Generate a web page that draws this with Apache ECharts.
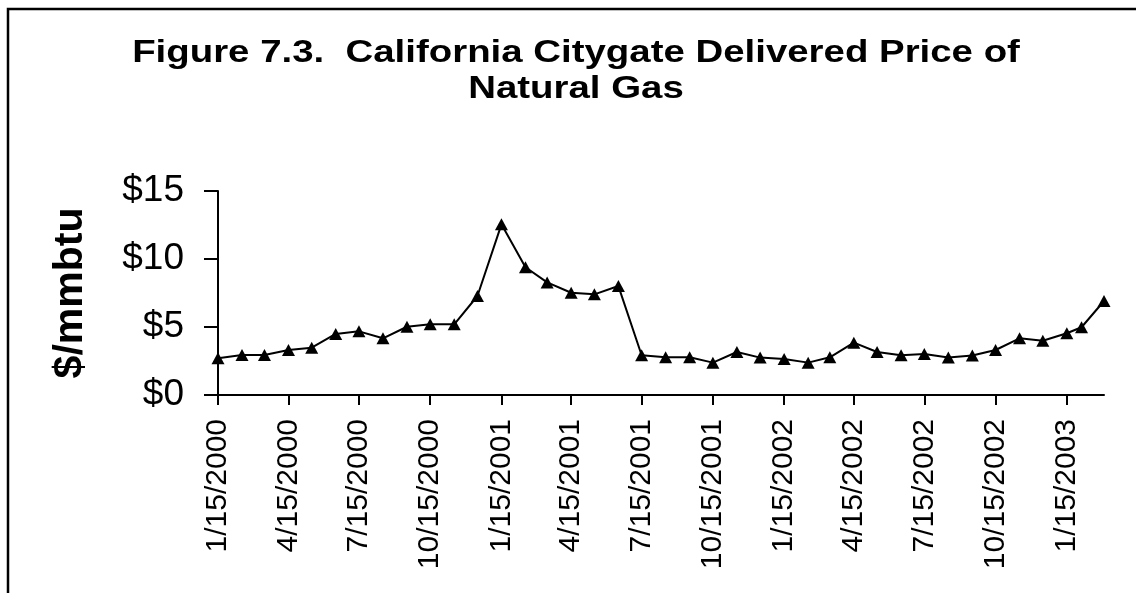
<!DOCTYPE html>
<html>
<head>
<meta charset="utf-8">
<script src="https://cdn.jsdelivr.net/npm/echarts@6/dist/echarts.min.js"></script>
<style>
html,body{margin:0;padding:0;background:#fff;}
#chart{width:1136px;height:593px;}
</style>
</head>
<body>
<div id="chart"></div>
<script>
// ---- data ----
var dates = [
  '1/15/2000','2/15/2000','3/15/2000','4/15/2000','5/15/2000','6/15/2000',
  '7/15/2000','8/15/2000','9/15/2000','10/15/2000','11/15/2000','12/15/2000',
  '1/15/2001','2/15/2001','3/15/2001','4/15/2001','5/15/2001','6/15/2001',
  '7/15/2001','8/15/2001','9/15/2001','10/15/2001','11/15/2001','12/15/2001',
  '1/15/2002','2/15/2002','3/15/2002','4/15/2002','5/15/2002','6/15/2002',
  '7/15/2002','8/15/2002','9/15/2002','10/15/2002','11/15/2002','12/15/2002',
  '1/15/2003','2/3/2003','3/4/2003'
];
var prices = [
  2.70, 2.94, 2.94, 3.31, 3.48, 4.49,
  4.68, 4.17, 5.02, 5.20, 5.20, 7.28,
  12.55, 9.39, 8.28, 7.52, 7.40, 8.01,
  2.92, 2.77, 2.77, 2.38, 3.16, 2.75,
  2.65, 2.38, 2.77, 3.85, 3.16, 2.92,
  3.01, 2.75, 2.90, 3.31, 4.17, 3.99,
  4.54, 4.98, 6.91
];
var tickLabels = [
  '1/15/2000','4/15/2000','7/15/2000','10/15/2000',
  '1/15/2001','4/15/2001','7/15/2001','10/15/2001',
  '1/15/2002','4/15/2002','7/15/2002','10/15/2002',
  '1/15/2003'
];
var yTicks = [0, 5, 10, 15];
var titleText = 'Figure 7.3.  California Citygate Delivered Price of\nNatural Gas';
var yName = '$/mmbtu';

// ---- helpers: dates -> day offsets from first date ----
function toTs(s) {
  var p = s.split('/');
  return Date.UTC(+p[2], +p[0] - 1, +p[1]);
}
var t0 = toTs(dates[0]);
function toDay(s) { return Math.round((toTs(s) - t0) / 86400000); }
var seriesData = dates.map(function (d, i) { return [toDay(d), prices[i]]; });
var tickValues = tickLabels.map(toDay);
var labelByDay = {};
tickLabels.forEach(function (l) { labelByDay[toDay(l)] = l; });

var FONT = 'Liberation Sans, Arial, sans-serif';
var chart = echarts.init(document.getElementById('chart'));
chart.setOption({
  backgroundColor: '#fff',
  animation: false,
  graphic: [{
    type: 'rect',
    shape: { x: 8, y: 9, width: 1300, height: 800 },
    style: { fill: 'none', stroke: '#000', lineWidth: 2.5 },
    silent: true
  }, {
    type: 'text',
    x: 576, y: 35,
    scaleX: 1.2,
    style: {
      text: titleText,
      x: 0, y: 0,
      align: 'center', verticalAlign: 'top',
      font: 'bold 32px ' + FONT,
      lineHeight: 36,
      fill: '#000'
    },
    silent: true
  }],
  grid: { left: 218, top: 191, width: 886, height: 204, containLabel: false },
  xAxis: {
    type: 'value',
    min: 0,
    max: toDay(dates[dates.length - 1]),
    splitLine: { show: false },
    axisLine: { lineStyle: { color: '#000', width: 2 } },
    axisTick: { show: true, customValues: tickValues, length: 10, lineStyle: { color: '#000', width: 2 } },
    axisLabel: {
      customValues: tickValues,
      rotate: 90, margin: 24,
      fontFamily: FONT, fontSize: 30, color: '#000',
      formatter: function (v) { return labelByDay[Math.round(v)] || ''; }
    }
  },
  yAxis: {
    type: 'value',
    min: yTicks[0], max: yTicks[yTicks.length - 1], interval: 5,
    name: yName,
    nameLocation: 'middle', nameRotate: 90, nameGap: 127,
    nameTextStyle: { fontFamily: FONT, fontWeight: 'bold', fontSize: 41, color: '#000' },
    splitLine: { show: false },
    axisLine: { show: true, lineStyle: { color: '#000', width: 2 } },
    axisTick: { show: true, length: 14, lineStyle: { color: '#000', width: 2 } },
    axisLabel: {
      margin: 34,
      fontFamily: FONT, fontSize: 37, color: '#000',
      formatter: function (v) { return '$' + v; }
    }
  },
  series: [{
    type: 'line',
    data: seriesData,
    symbol: 'triangle',
    symbolSize: [13, 12],
    lineStyle: { color: '#000', width: 2 },
    itemStyle: { color: '#000' }
  }]
});
</script>
</body>
</html>
